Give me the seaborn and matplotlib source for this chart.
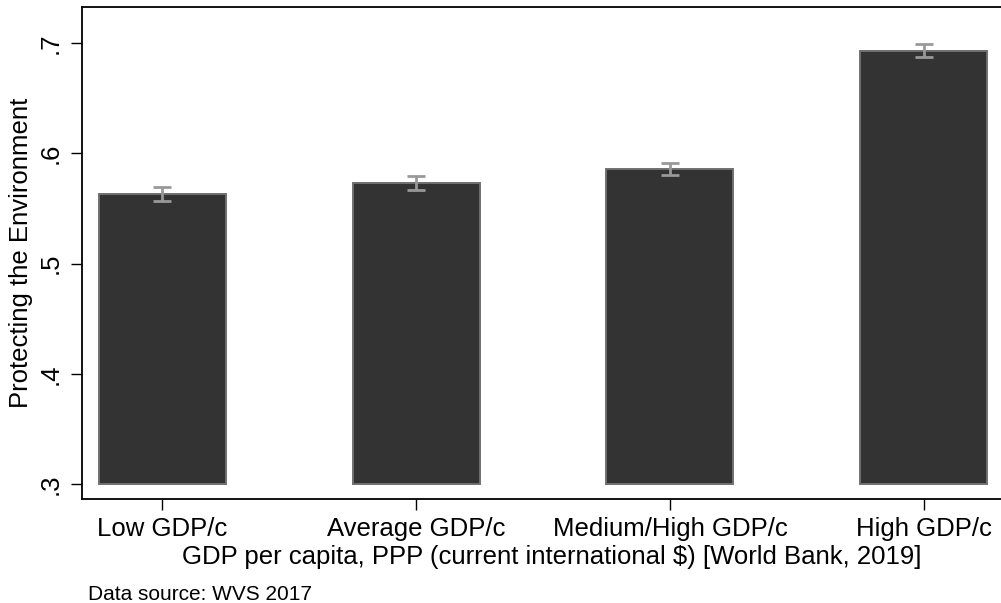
import matplotlib
matplotlib.use("Agg")
import matplotlib.pyplot as plt
import seaborn as sns
import numpy as np

# Mean support for protecting the environment by GDP per capita group
categories = ["Low GDP/c", "Average GDP/c", "Medium/High GDP/c", "High GDP/c"]
means = [0.563, 0.573, 0.586, 0.693]
ci_half = [0.006, 0.0065, 0.0053, 0.0057]
y_ticks = [0.3, 0.4, 0.5, 0.6, 0.7]
y_tick_labels = [".3", ".4", ".5", ".6", ".7"]
BASE = 0.3

sns.set_theme(style="white")
plt.rcParams["font.family"] = ["Liberation Sans", "DejaVu Sans"]
plt.rcParams.update({"text.color": "black", "axes.labelcolor": "black",
                     "xtick.color": "black", "ytick.color": "black"})

W, H = 1001, 603
fig = plt.figure(figsize=(W / 100, H / 100), dpi=100)
ax = fig.add_axes([82 / W, 1 - 499 / H, (1004 - 82) / W, (499 - 7) / H])

sns.barplot(x=categories, y=means, color="#333333", saturation=1, width=0.5,
            edgecolor="#707070", linewidth=1.4, errorbar=None, ax=ax)

# bars rise from the axis base value instead of zero
for patch in ax.patches:
    top = patch.get_y() + patch.get_height()
    patch.set_y(BASE)
    patch.set_height(top - BASE)

ax.errorbar(np.arange(len(categories)), means, yerr=ci_half, fmt="none",
            ecolor="#999999", elinewidth=2, capsize=6.5, capthick=2, zorder=5)

ax.set_xlim(-0.315, 3.315)
ax.set_ylim(0.2864, 0.7327)
ax.set_yticks(y_ticks)
ax.set_yticklabels(y_tick_labels, rotation=90, va="center", fontsize=18.5)
ax.tick_params(axis="y", left=True, length=8, width=1, color="black", pad=6)
ax.tick_params(axis="x", bottom=True, length=8, width=1, color="black", pad=5,
               labelsize=18.5)

for side in ["top", "left", "bottom"]:
    ax.spines[side].set_color("black")
    ax.spines[side].set_linewidth(1.3)
ax.spines["right"].set_visible(False)

ax.set_ylabel("Protecting the Environment", fontsize=18.5)
ax.yaxis.label.set_verticalalignment("center")
ax.yaxis.set_label_coords((21 - 82) / 922, 0.5)

ax.set_xlabel("GDP per capita, PPP (current international $) [World Bank, 2019]",
              fontsize=18.5)
ax.xaxis.label.set_verticalalignment("top")
ax.xaxis.set_label_coords((552 - 82) / 922, (499 - 545) / 492)

fig.text(88 / W, 1 - 600 / H, "Data source: WVS 2017", fontsize=15,
         va="baseline", ha="left")

fig.savefig("out.png", dpi=100)
